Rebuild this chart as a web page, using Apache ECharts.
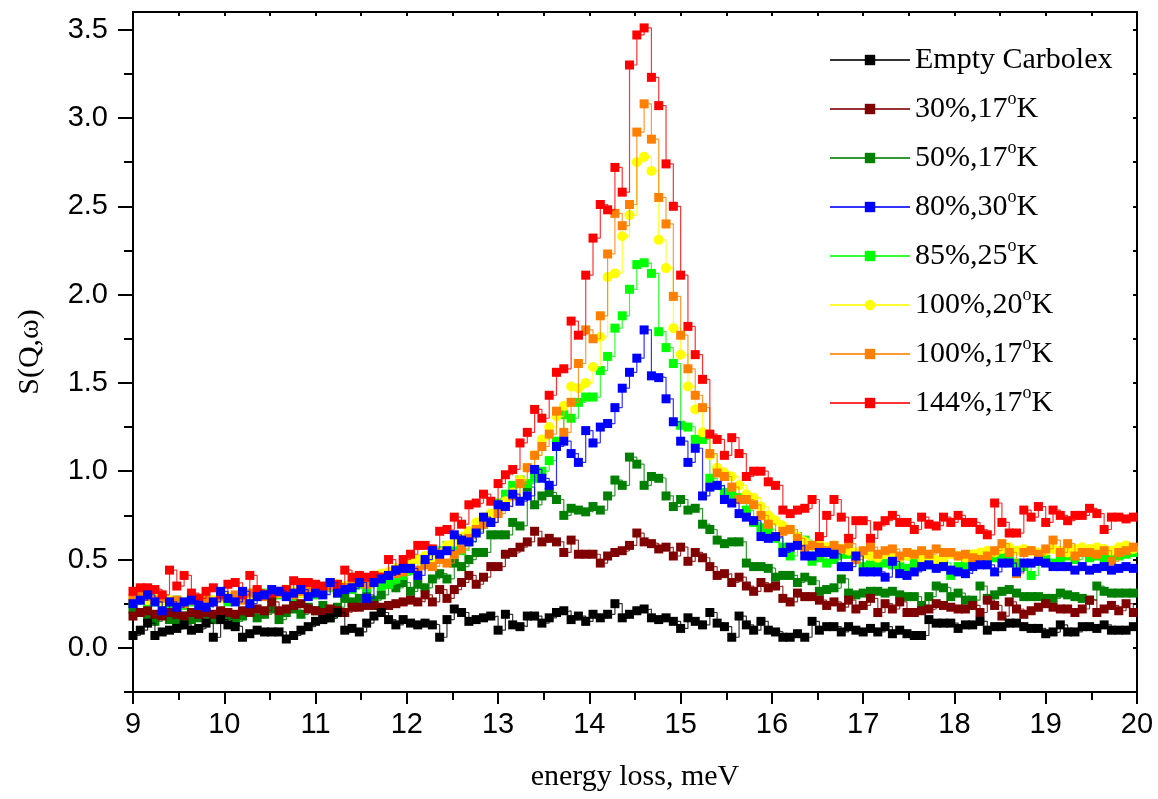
<!DOCTYPE html>
<html>
<head>
<meta charset="utf-8">
<script src="https://cdn.jsdelivr.net/npm/echarts@6/dist/echarts.min.js"></script>
<style>
html,body{margin:0;padding:0;background:#fff;}
#chart{width:1158px;height:799px;}
</style>
</head>
<body>
<div id="chart"></div>
<script>
// energy loss (meV)
const energy = [
9.00,9.08,9.16,9.24,9.32,9.40,9.48,9.56,9.64,9.72,
9.80,9.88,9.96,10.04,10.12,10.20,10.28,10.36,10.44,10.52,
10.60,10.68,10.76,10.84,10.92,11.00,11.08,11.16,11.24,11.32,
11.40,11.48,11.56,11.64,11.72,11.80,11.88,11.96,12.04,12.12,
12.20,12.28,12.36,12.44,12.52,12.60,12.68,12.76,12.84,12.92,
13.00,13.08,13.16,13.24,13.32,13.40,13.48,13.56,13.64,13.72,
13.80,13.88,13.96,14.04,14.12,14.20,14.28,14.36,14.44,14.52,
14.60,14.68,14.76,14.84,14.92,15.00,15.08,15.16,15.24,15.32,
15.40,15.48,15.56,15.64,15.72,15.80,15.88,15.96,16.04,16.12,
16.20,16.28,16.36,16.44,16.52,16.60,16.68,16.76,16.84,16.92,
17.00,17.08,17.16,17.24,17.32,17.40,17.48,17.56,17.64,17.72,
17.80,17.88,17.96,18.04,18.12,18.20,18.28,18.36,18.44,18.52,
18.60,18.68,18.76,18.84,18.92,19.00,19.08,19.16,19.24,19.32,
19.40,19.48,19.56,19.64,19.72,19.80,19.88,19.96
];

const emptyCarbolex = [
0.07,0.10,0.14,0.07,0.09,0.10,0.11,0.13,0.10,0.11,
0.14,0.06,0.16,0.13,0.12,0.06,0.08,0.10,0.09,0.09,
0.09,0.05,0.07,0.10,0.12,0.15,0.16,0.17,0.20,0.10,
0.11,0.09,0.14,0.18,0.20,0.16,0.13,0.16,0.14,0.13,
0.14,0.13,0.06,0.16,0.22,0.20,0.15,0.16,0.17,0.18,
0.10,0.19,0.13,0.12,0.18,0.18,0.14,0.17,0.20,0.21,
0.16,0.18,0.15,0.19,0.17,0.19,0.25,0.17,0.19,0.21,
0.22,0.17,0.16,0.17,0.15,0.11,0.17,0.15,0.13,0.20,
0.14,0.12,0.06,0.18,0.13,0.10,0.15,0.10,0.09,0.06,
0.06,0.08,0.06,0.15,0.10,0.12,0.12,0.09,0.12,0.10,
0.09,0.11,0.09,0.12,0.08,0.10,0.08,0.07,0.07,0.16,
0.14,0.14,0.14,0.11,0.13,0.13,0.15,0.10,0.12,0.12,
0.14,0.14,0.12,0.11,0.11,0.08,0.09,0.13,0.09,0.09,
0.12,0.12,0.11,0.13,0.10,0.10,0.10,0.12
];

const s30_17K = [
0.18,0.20,0.21,0.19,0.18,0.20,0.19,0.18,0.20,0.19,
0.20,0.19,0.21,0.20,0.19,0.21,0.20,0.22,0.21,0.26,
0.21,0.22,0.24,0.25,0.22,0.21,0.20,0.22,0.21,0.20,
0.23,0.23,0.24,0.24,0.23,0.24,0.25,0.26,0.27,0.26,
0.30,0.26,0.33,0.28,0.33,0.37,0.41,0.36,0.40,0.46,
0.46,0.53,0.54,0.57,0.60,0.66,0.60,0.62,0.60,0.54,
0.61,0.53,0.53,0.53,0.48,0.52,0.54,0.55,0.58,0.65,
0.60,0.59,0.56,0.57,0.52,0.57,0.49,0.54,0.51,0.46,
0.41,0.42,0.37,0.40,0.35,0.32,0.37,0.34,0.35,0.28,
0.26,0.31,0.29,0.29,0.27,0.24,0.26,0.23,0.27,0.22,
0.24,0.28,0.20,0.25,0.22,0.26,0.20,0.20,0.21,0.22,
0.25,0.24,0.23,0.22,0.22,0.24,0.20,0.27,0.24,0.18,
0.26,0.22,0.19,0.21,0.23,0.25,0.23,0.22,0.22,0.20,
0.22,0.27,0.20,0.22,0.24,0.21,0.25,0.20
];

const s50_17K = [
0.22,0.20,0.17,0.15,0.19,0.16,0.15,0.18,0.16,0.17,
0.19,0.16,0.20,0.18,0.15,0.18,0.20,0.17,0.19,0.22,
0.16,0.20,0.22,0.19,0.23,0.21,0.24,0.17,0.23,0.28,
0.26,0.28,0.30,0.27,0.30,0.36,0.34,0.37,0.32,0.36,
0.34,0.39,0.42,0.39,0.48,0.46,0.50,0.54,0.54,0.64,
0.64,0.64,0.71,0.69,0.91,0.81,0.86,0.88,0.84,0.75,
0.79,0.78,0.77,0.80,0.78,0.86,0.95,0.92,1.08,1.04,
0.92,0.97,0.96,0.86,0.80,0.84,0.78,0.79,0.70,0.67,
0.61,0.59,0.60,0.60,0.48,0.46,0.46,0.45,0.40,0.41,
0.41,0.37,0.40,0.38,0.32,0.33,0.34,0.39,0.31,0.30,
0.31,0.32,0.32,0.31,0.32,0.30,0.29,0.29,0.24,0.29,
0.35,0.34,0.29,0.31,0.27,0.27,0.35,0.28,0.30,0.32,
0.33,0.31,0.29,0.29,0.29,0.28,0.28,0.31,0.30,0.29,
0.28,0.27,0.35,0.32,0.31,0.31,0.31,0.31
];

const s80_30K = [
0.25,0.27,0.30,0.26,0.21,0.26,0.23,0.26,0.27,0.24,
0.23,0.26,0.32,0.28,0.26,0.32,0.25,0.29,0.30,0.33,
0.32,0.29,0.31,0.33,0.29,0.31,0.30,0.37,0.31,0.33,
0.34,0.37,0.28,0.37,0.39,0.41,0.44,0.45,0.45,0.41,
0.50,0.55,0.53,0.55,0.64,0.61,0.60,0.65,0.74,0.71,
0.81,0.80,0.87,0.83,0.86,1.01,0.96,0.92,1.14,1.17,
1.10,1.05,1.23,1.16,1.25,1.27,1.36,1.47,1.56,1.64,
1.80,1.54,1.53,1.41,1.28,1.17,1.05,1.13,0.86,0.91,
0.92,0.84,0.82,0.76,0.74,0.72,0.63,0.62,0.63,0.54,
0.57,0.58,0.52,0.52,0.54,0.54,0.53,0.46,0.46,0.52,
0.43,0.43,0.43,0.40,0.49,0.42,0.41,0.43,0.46,0.47,
0.45,0.46,0.44,0.43,0.42,0.46,0.47,0.47,0.43,0.48,
0.48,0.43,0.48,0.48,0.49,0.48,0.46,0.46,0.46,0.44,
0.46,0.44,0.45,0.46,0.44,0.45,0.46,0.45
];

const s85_25K = [
0.25,0.27,0.24,0.26,0.23,0.25,0.27,0.24,0.26,0.28,
0.25,0.27,0.29,0.26,0.28,0.30,0.27,0.29,0.31,0.28,
0.30,0.32,0.29,0.31,0.33,0.30,0.32,0.34,0.31,0.35,
0.33,0.36,0.34,0.37,0.35,0.36,0.39,0.41,0.44,0.50,
0.48,0.52,0.55,0.58,0.56,0.55,0.60,0.66,0.70,0.74,
0.82,0.87,0.92,0.95,0.93,0.96,1.00,1.06,1.17,1.32,
1.30,1.39,1.42,1.42,1.57,1.65,1.81,1.88,2.03,2.17,
2.18,2.12,1.79,1.70,1.61,1.26,1.25,1.18,1.18,0.96,
0.92,0.88,0.87,0.85,0.78,0.71,0.68,0.67,0.62,0.57,
0.52,0.63,0.61,0.49,0.51,0.48,0.50,0.53,0.53,0.50,
0.46,0.47,0.46,0.48,0.47,0.46,0.45,0.48,0.49,0.47,
0.49,0.48,0.41,0.46,0.47,0.48,0.49,0.50,0.51,0.52,
0.50,0.48,0.46,0.41,0.49,0.50,0.48,0.51,0.52,0.50,
0.54,0.51,0.52,0.51,0.53,0.52,0.53,0.54
];

const s100_20K = [
0.27,0.28,0.27,0.28,0.26,0.27,0.25,0.26,0.27,0.26,
0.28,0.27,0.28,0.29,0.28,0.30,0.29,0.31,0.30,0.32,
0.31,0.33,0.32,0.31,0.33,0.34,0.33,0.35,0.36,0.35,
0.37,0.38,0.39,0.40,0.42,0.43,0.45,0.46,0.48,0.50,
0.52,0.51,0.54,0.58,0.60,0.63,0.66,0.71,0.74,0.76,
0.80,0.83,0.88,0.95,1.02,1.09,1.18,1.25,1.31,1.37,
1.48,1.47,1.50,1.59,1.76,2.10,2.12,2.33,2.45,2.75,
2.78,2.70,2.31,2.15,1.81,1.66,1.48,1.35,1.22,1.09,
1.02,0.99,0.97,0.92,0.87,0.85,0.80,0.75,0.72,0.69,
0.67,0.63,0.60,0.58,0.59,0.57,0.58,0.56,0.55,0.54,
0.53,0.52,0.51,0.53,0.52,0.51,0.52,0.53,0.51,0.52,
0.50,0.51,0.53,0.52,0.51,0.53,0.54,0.55,0.54,0.56,
0.57,0.55,0.56,0.55,0.54,0.55,0.56,0.55,0.54,0.56,
0.57,0.56,0.57,0.56,0.55,0.57,0.58,0.56
];

const s100_17K = [
0.28,0.30,0.29,0.27,0.28,0.26,0.27,0.25,0.27,0.28,
0.27,0.26,0.29,0.28,0.30,0.27,0.31,0.32,0.29,0.30,
0.31,0.33,0.30,0.32,0.34,0.33,0.32,0.35,0.33,0.34,
0.36,0.37,0.36,0.38,0.40,0.41,0.42,0.43,0.45,0.44,
0.47,0.46,0.50,0.48,0.53,0.56,0.62,0.67,0.70,0.71,
0.76,0.80,0.86,0.93,1.02,1.09,1.14,1.21,1.34,1.22,
1.39,1.61,1.80,1.75,1.88,2.23,2.46,2.39,2.51,2.92,
3.08,2.88,2.55,2.40,1.99,1.77,1.58,1.43,1.36,1.10,
0.99,0.97,0.91,0.84,0.84,0.81,0.75,0.70,0.63,0.66,
0.67,0.62,0.56,0.58,0.57,0.55,0.58,0.56,0.59,0.50,
0.55,0.57,0.53,0.55,0.56,0.52,0.54,0.53,0.55,0.53,
0.56,0.54,0.54,0.52,0.53,0.51,0.50,0.52,0.55,0.59,
0.54,0.42,0.54,0.55,0.53,0.56,0.61,0.54,0.59,0.52,
0.54,0.54,0.53,0.55,0.49,0.54,0.55,0.57
];

const s144_17K = [
0.32,0.34,0.34,0.33,0.30,0.44,0.35,0.41,0.31,0.28,
0.32,0.34,0.30,0.36,0.37,0.30,0.41,0.33,0.30,0.31,
0.32,0.33,0.38,0.37,0.37,0.36,0.35,0.37,0.36,0.44,
0.40,0.41,0.40,0.41,0.40,0.50,0.44,0.50,0.53,0.58,
0.58,0.56,0.66,0.67,0.74,0.70,0.81,0.82,0.87,0.83,
0.93,0.98,1.01,1.16,1.22,1.35,1.30,1.43,1.56,1.58,
1.85,1.77,2.11,2.32,2.51,2.48,2.72,2.58,3.30,3.47,
3.51,3.23,3.07,2.74,2.50,2.11,1.82,1.66,1.52,1.21,
1.18,1.09,1.19,1.10,0.97,1.00,1.00,0.94,0.92,0.78,
0.76,0.78,0.79,0.84,0.63,0.75,0.84,0.74,0.62,0.72,
0.72,0.62,0.69,0.72,0.75,0.71,0.71,0.67,0.74,0.70,
0.69,0.74,0.71,0.75,0.71,0.71,0.67,0.64,0.82,0.71,
0.65,0.65,0.78,0.74,0.80,0.71,0.78,0.75,0.72,0.75,
0.75,0.79,0.76,0.67,0.74,0.74,0.73,0.74
];

const seriesNames = ['Empty Carbolex','30%,17°K','50%,17°K','80%,30°K','85%,25°K','100%,20°K','100%,17°K','144%,17°K'];
const seriesValues = [emptyCarbolex, s30_17K, s50_17K, s80_30K, s85_25K, s100_20K, s100_17K, s144_17K];
const seriesColors = ['#000000','#800000','#008000','#0000ff','#00ff00','#ffff00','#ff8000','#ff0000'];
const seriesSymbols = ['rect','rect','rect','rect','rect','circle','rect','rect'];
const seriesZ = [10, 8, 3, 9, 4, 5, 6, 7];

const xTicks = [9,10,11,12,13,14,15,16,17,18,19,20];
const yLabelValues = [0,0.5,1,1.5,2,2.5,3,3.5];
const yMinorValues = [-0.25,0.25,0.75,1.25,1.75,2.25,2.75,3.25];

const sans = 'Liberation Sans, Arial, sans-serif';
const serif = 'Liberation Serif, Times New Roman, serif';

const series = seriesNames.map((name, k) => ({
  name: name,
  type: 'line',
  step: 'end',
  xAxisIndex: 0,
  yAxisIndex: 0,
  z: seriesZ[k],
  data: energy.map((e, i) => [e, seriesValues[k][i]]),
  symbol: seriesSymbols[k],
  symbolSize: seriesSymbols[k] === 'circle' ? 10 : 9,
  showSymbol: true,
  lineStyle: { color: seriesColors[k], width: 1.2, opacity: 0.8 },
  itemStyle: { color: seriesColors[k], opacity: 1 },
  emphasis: { disabled: true },
  animation: false
}));

const chart = echarts.init(document.getElementById('chart'), null, { renderer: 'canvas' });
chart.setOption({
  backgroundColor: '#ffffff',
  animation: false,
  grid: { left: 133, right: 21, top: 12, bottom: 107, containLabel: false },
  legend: {
    orient: 'vertical',
    left: 824,
    top: 37,
    itemWidth: 80,
    itemHeight: 13,
    itemGap: 12,
    selectedMode: false,
    data: seriesNames,
    formatter: n => n.replace('°', '{s|o}'),
    textStyle: {
      fontFamily: serif, fontSize: 30, color: '#000', lineHeight: 36,
      rich: { s: { fontFamily: serif, fontSize: 18, color: '#000', verticalAlign: 'bottom', padding: [0, 0, 19, 0] } }
    }
  },
  xAxis: [
    {
      type: 'value', position: 'bottom', min: 9, max: 20, interval: 1,
      name: 'energy loss, meV', nameLocation: 'middle', nameGap: 70,
      nameTextStyle: { fontFamily: serif, fontSize: 30, color: '#000' },
      axisLine: { show: true, onZero: false, lineStyle: { color: '#000', width: 2 } },
      axisTick: { show: true, length: 12, lineStyle: { color: '#000', width: 2 } },
      minorTick: { show: true, splitNumber: 2, length: 8, lineStyle: { color: '#000', width: 2 } },
      axisLabel: { fontFamily: sans, fontSize: 29, color: '#000', margin: 18 },
      splitLine: { show: false }, minorSplitLine: { show: false }
    },
    {
      type: 'value', position: 'top', min: 9, max: 20, interval: 1,
      axisLine: { show: true, onZero: false, lineStyle: { color: '#000', width: 2 } },
      axisTick: { show: true, inside: true, length: 4, lineStyle: { color: '#000', width: 2 } },
      minorTick: { show: true, splitNumber: 2, length: 4, lineStyle: { color: '#000', width: 2 } },
      axisLabel: { show: false },
      splitLine: { show: false }, minorSplitLine: { show: false }
    }
  ],
  yAxis: [
    {
      type: 'value', position: 'left', min: -0.25, max: 3.6, interval: 0.25,
      name: 'S(Q,ω)', nameLocation: 'middle', nameGap: 88, nameRotate: 90,
      nameTextStyle: { fontFamily: serif, fontSize: 30, color: '#000' },
      axisLine: { show: true, onZero: false, lineStyle: { color: '#000', width: 2 } },
      axisTick: { show: true, length: 15, customValues: yLabelValues, lineStyle: { color: '#000', width: 2 } },
      axisLabel: { fontFamily: sans, fontSize: 29, color: '#000', margin: 25, customValues: yLabelValues,
                   formatter: v => v.toFixed(1) },
      splitLine: { show: false }
    },
    {
      type: 'value', position: 'right', min: -0.25, max: 3.6, interval: 0.25,
      axisLine: { show: true, onZero: false, lineStyle: { color: '#000', width: 2 } },
      axisTick: { show: true, inside: true, length: 4, lineStyle: { color: '#000', width: 2 } },
      axisLabel: { show: false },
      splitLine: { show: false }
    },
    {
      type: 'value', position: 'left', min: -0.25, max: 3.6, interval: 0.25,
      axisLine: { show: false },
      axisTick: { show: true, length: 9, customValues: yMinorValues, lineStyle: { color: '#000', width: 2 } },
      axisLabel: { show: false },
      splitLine: { show: false }
    }
  ],
  series: series
});
</script>
</body>
</html>
